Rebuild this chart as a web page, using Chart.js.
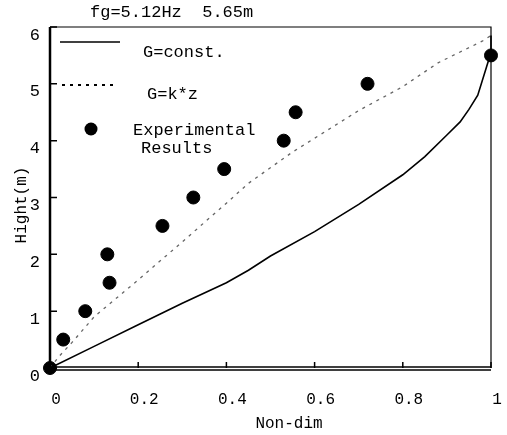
<!DOCTYPE html>
<html>
<head>
<meta charset="utf-8">
<script src="https://cdn.jsdelivr.net/npm/chart.js@4"></script>
<style>
html, body { margin: 0; padding: 0; background: #fff; }
</style>
</head>
<body>
<canvas id="chart" width="507" height="435"></canvas>
<script>
// G=const. curve
const constX = [0, 0.1, 0.2, 0.25, 0.3, 0.4, 0.45, 0.5, 0.6, 0.7, 0.8, 0.85, 0.9, 0.93, 0.95, 0.97, 0.99, 1.0, 1.0];
const constY = [0, 0.38, 0.76, 0.95, 1.14, 1.5, 1.72, 1.97, 2.4, 2.88, 3.4, 3.72, 4.1, 4.33, 4.55, 4.8, 5.3, 5.55, 5.85];

// G=k*z curve
const kzX = [0, 0.02, 0.05, 0.1, 0.2, 0.3, 0.4, 0.45, 0.55, 0.7, 0.8, 0.88, 0.98, 1.0];
const kzY = [0, 0.2, 0.45, 0.9, 1.55, 2.22, 2.9, 3.25, 3.8, 4.53, 4.95, 5.37, 5.75, 5.85];

// experimental results
const expX = [0, 0.03, 0.08, 0.13, 0.135, 0.255, 0.325, 0.395, 0.53, 0.557, 0.72, 1.0];
const expY = [0, 0.5, 1.0, 2.0, 1.5, 2.5, 3.0, 3.5, 4.0, 4.5, 5.0, 5.5];

const xTicks = [0, 0.2, 0.4, 0.6, 0.8, 1];
const yTicks = [0, 1, 2, 3, 4, 5, 6];

const FONT = '"Liberation Mono", monospace';

const toPoints = (xs, ys) => xs.map((x, i) => ({ x: x, y: ys[i] }));

const framePlugin = {
    id: 'frame',
    afterDraw(chart) {
        const ctx = chart.ctx;
        const a = chart.chartArea;
        const x = chart.scales.x;
        const y = chart.scales.y;
        ctx.save();
        ctx.strokeStyle = '#000';

        // top and right border
        ctx.lineWidth = 1.2;
        ctx.beginPath();
        ctx.moveTo(a.left, a.top);
        ctx.lineTo(a.right, a.top);
        ctx.lineTo(a.right, a.bottom);
        ctx.stroke();

        // left axis
        ctx.lineWidth = 2.5;
        ctx.beginPath();
        ctx.moveTo(a.left, a.top);
        ctx.lineTo(a.left, a.bottom);
        ctx.stroke();

        // bottom axis (double line)
        ctx.lineWidth = 1.3;
        ctx.beginPath();
        ctx.moveTo(a.left, a.bottom - 1);
        ctx.lineTo(a.right, a.bottom - 1);
        ctx.moveTo(a.left, a.bottom + 2);
        ctx.lineTo(a.right, a.bottom + 2);
        ctx.stroke();

        // inward ticks
        ctx.lineWidth = 1.5;
        ctx.beginPath();
        yTicks.forEach(v => {
            const py = y.getPixelForValue(v);
            ctx.moveTo(a.left, py);
            ctx.lineTo(a.left + 7, py);
        });
        xTicks.forEach(v => {
            const px = x.getPixelForValue(v);
            ctx.moveTo(px, a.bottom);
            ctx.lineTo(px, a.bottom - 6);
        });
        ctx.stroke();

        // legend
        ctx.lineWidth = 1.6;
        ctx.beginPath();
        ctx.moveTo(a.left + 10, a.top + 15);
        ctx.lineTo(a.left + 70, a.top + 15);
        ctx.stroke();
        ctx.setLineDash([3, 5]);
        ctx.lineWidth = 2;
        ctx.beginPath();
        ctx.moveTo(a.left + 12, a.top + 58);
        ctx.lineTo(a.left + 68, a.top + 58);
        ctx.stroke();
        ctx.setLineDash([]);
        ctx.fillStyle = '#000';
        ctx.beginPath();
        ctx.arc(a.left + 41, a.top + 102, 6.5, 0, Math.PI * 2);
        ctx.fill();

        ctx.font = '17px ' + FONT;
        ctx.textBaseline = 'middle';
        ctx.textAlign = 'left';
        ctx.fillText('G=const.', a.left + 93, a.top + 25);
        ctx.fillText('G=k*z', a.left + 97, a.top + 67);
        ctx.fillText('Experimental', a.left + 83, a.top + 103);
        ctx.fillText('Results', a.left + 91, a.top + 121);

        // title
        ctx.font = '17px ' + FONT;
        ctx.fillText('fg=5.12Hz  5.65m', 90, 12);

        // axis titles
        ctx.font = '16px ' + FONT;
        ctx.textAlign = 'center';
        ctx.fillText('Non-dim', 289, 424);
        ctx.translate(22, 205);
        ctx.rotate(-Math.PI / 2);
        ctx.fillText('Hight(m)', 0, 0);
        ctx.restore();
    }
};

new Chart(document.getElementById('chart'), {
    type: 'scatter',
    data: {
        datasets: [
            {
                label: 'G=const.',
                data: toPoints(constX, constY),
                showLine: true,
                borderColor: '#000',
                borderWidth: 1.6,
                pointRadius: 0,
                tension: 0
            },
            {
                label: 'G=k*z',
                data: toPoints(kzX, kzY),
                showLine: true,
                borderColor: '#666',
                borderWidth: 1.3,
                borderDash: [3, 5],
                pointRadius: 0,
                tension: 0
            },
            {
                label: 'Experimental Results',
                data: toPoints(expX, expY),
                backgroundColor: '#000',
                borderColor: '#000',
                pointRadius: 6.5,
                pointHoverRadius: 6.5
            }
        ]
    },
    options: {
        responsive: false,
        animation: false,
        clip: false,
        layout: { padding: { left: 0, right: 16, top: 27, bottom: 0 } },
        plugins: {
            legend: { display: false },
            tooltip: { enabled: false }
        },
        scales: {
            x: {
                type: 'linear',
                min: 0,
                max: 1,
                afterFit: s => { s.height = 67; s.paddingLeft = 0; s.paddingRight = 0; },
                afterBuildTicks: s => { s.ticks = xTicks.map(v => ({ value: v })); },
                grid: { display: false, drawTicks: false },
                border: { display: false },
                ticks: {
                    color: '#000',
                    padding: 22,
                    labelOffset: 6,
                    maxRotation: 0,
                    font: { family: FONT, size: 16 },
                    callback: v => String(v)
                }
            },
            y: {
                type: 'linear',
                min: 0,
                max: 6,
                afterFit: s => { s.width = 50; s.paddingTop = 0; s.paddingBottom = 0; },
                afterBuildTicks: s => { s.ticks = yTicks.map(v => ({ value: v })); },
                grid: { display: false, drawTicks: false },
                border: { display: false },
                ticks: {
                    color: '#000',
                    padding: 10,
                    labelOffset: 8,
                    font: { family: FONT, size: 17 },
                    callback: v => String(v)
                }
            }
        }
    },
    plugins: [framePlugin]
});
</script>
</body>
</html>
